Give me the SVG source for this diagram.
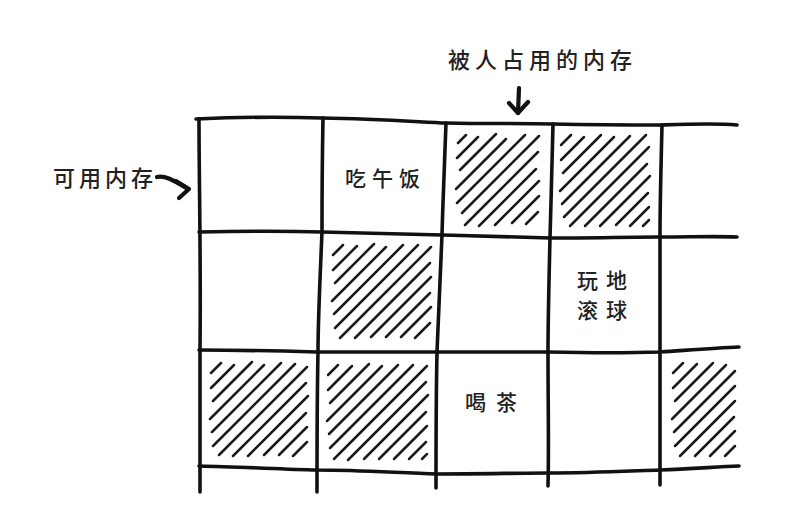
<svg xmlns="http://www.w3.org/2000/svg" width="790" height="513" viewBox="0 0 790 513">
<style>
.grid{fill:none;stroke:#111;stroke-width:3.6;stroke-linecap:round;stroke-linejoin:round}
.hatch{fill:none;stroke:#1a1a1a;stroke-width:2.5;stroke-linecap:round}
.arrow{fill:none;stroke:#111;stroke-width:4.2;stroke-linecap:round;stroke-linejoin:round}
.lbl{font-family:"Noto Sans CJK SC","Noto Sans CJK JP",sans-serif;font-size:21px;font-weight:500;fill:#222}
</style>
<rect width="790" height="513" fill="#fff"/>
<g id="grid">
<path class="grid" d="M196,119 C240,117 290,117 322,118 C380,119 420,122 446,123 C490,124 520,123 553,124 C600,125 640,125 662,125 C690,124 715,123 737,125"/>
<path class="grid" d="M199,232 C250,231 290,231 322,232 C370,233 410,234 442,235 C480,236 520,237 550,238 C590,238 630,237 660,237 C690,237 715,236 737,237"/>
<path class="grid" d="M199,350 C240,350 280,351 317,352 C360,352 400,352 437,352 C480,352 520,352 548,352 C590,353 630,353 660,352 C690,350 715,348 739,347"/>
<path class="grid" d="M199,466 C240,467 280,469 317,470 C360,470 400,473 437,474 C480,474 520,473 548,473 C590,473 630,471 660,470 C690,469 715,467 739,466"/>
<path class="grid" d="M199,119 C199,180 201,260 200,350 C200,400 200,450 200,492"/>
<path class="grid" d="M323,118 C322,170 322,200 322,232 C320,280 318,320 318,352 C317,400 317,450 317,492"/>
<path class="grid" d="M446,123 C444,170 443,200 442,235 C440,280 438,320 437,352 C436,400 436,450 436,488"/>
<path class="grid" d="M553,124 C552,170 551,200 550,238 C549,280 548,320 548,352 C548,400 549,450 548,486"/>
<path class="grid" d="M662,125 C661,170 660,200 660,237 C660,280 660,320 660,352 C660,400 660,450 660,485"/>
</g>
<g id="cell-r1c3-used">
<path class="hatch" d="M458,143 L466,135 M457,158 L478,137 M460,170 L496,134 M456,189 L506,139 M457,203 L525,135 M462,213 L539,136 M465,225 L538,152 M479,226 L536,169 M495,225 L539,181 M512,223 L539,196 M526,224 L538,212"/>
</g>
<g id="cell-r1c4-used">
<path class="hatch" d="M561,145 L571,135 M561,160 L584,137 M563,173 L601,135 M560,191 L614,137 M562,204 L630,136 M564,217 L646,135 M570,226 L649,147 M585,226 L647,164 M600,226 L650,176 M616,225 L648,193 M630,226 L649,207 M643,226 L649,220"/>
</g>
<g id="cell-r2c2-used">
<path class="hatch" d="M333,255 L343,245 M333,270 L357,246 M335,283 L374,244 M332,301 L386,247 M334,314 L403,245 M335,328 L418,245 M340,338 L431,247 M355,338 L430,263 M371,337 L431,277 M386,337 L430,293 M401,337 L431,307 M415,338 L430,323"/>
</g>
<g id="cell-r3c1-used">
<path class="hatch" d="M211,373 L221,363 M211,388 L234,365 M213,401 L252,362 M210,419 L264,365 M212,432 L281,363 M213,446 L295,364 M219,455 L307,367 M233,456 L306,383 M248,456 L308,396 M264,455 L306,413 M279,455 L307,427 M293,456 L307,442"/>
</g>
<g id="cell-r3c2-used">
<path class="hatch" d="M328,375 L338,365 M328,390 L352,366 M330,403 L369,364 M327,421 L382,366 M329,434 L398,365 M330,448 L413,365 M334,459 L427,366 M348,460 L426,382 M364,459 L428,395 M379,459 L426,412 M394,459 L427,426 M409,459 L426,442 M422,459 L427,454"/>
</g>
<g id="cell-r3c5-used">
<path class="hatch" d="M673,373 L683,363 M673,388 L697,364 M675,401 L713,363 M672,419 L726,365 M674,432 L735,371 M675,446 L735,386 M680,456 L735,401 M695,456 L734,417 M710,456 L735,431 M725,456 L735,446"/>
</g>
<g id="labels">
<text class="lbl" x="345" y="186" style="letter-spacing:6px">吃午饭</text>
<text class="lbl" x="577" y="288" style="letter-spacing:8px">玩地</text>
<text class="lbl" x="577" y="318" style="letter-spacing:8px">滚球</text>
<text class="lbl" x="465" y="410" style="letter-spacing:10px">喝茶</text>
<text class="lbl" x="53" y="186" style="font-size:22px;letter-spacing:4px">可用内存</text>
<text class="lbl" x="448" y="68" style="font-size:22px;letter-spacing:5px">被人占用的内存</text>
</g>
<g id="connectors">
<path class="arrow" d="M157,177 C166,175 176,182 188,189"/>
<path class="arrow" d="M176,181 L189,189 L179,198"/>
<path class="arrow" d="M519,88 L518,113"/>
<path class="arrow" d="M509,103 L518,113 L528,102"/>
</g>
</svg>
